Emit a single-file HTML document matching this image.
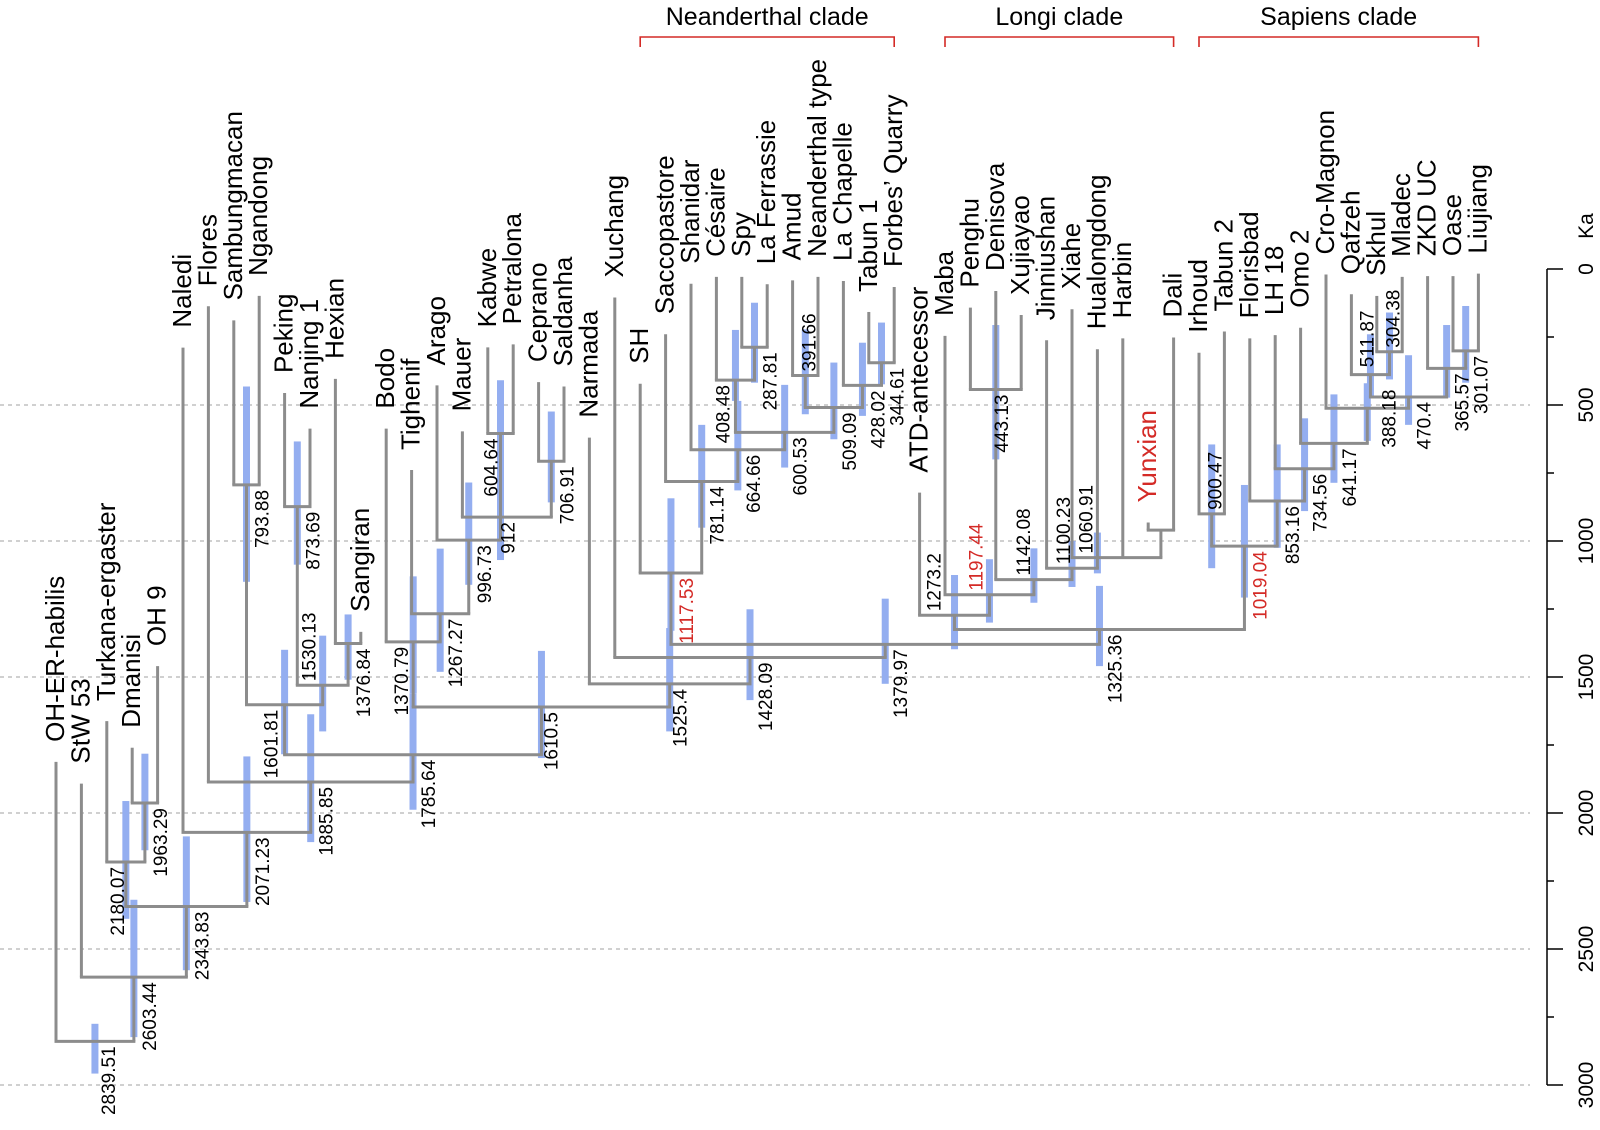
<!DOCTYPE html>
<html><head><meta charset="utf-8"><title>Hominin phylogeny</title>
<style>
html,body{margin:0;padding:0;background:#fff;}
svg{display:block;font-family:"Liberation Sans",Arial,sans-serif;}
</style></head>
<body>
<svg id="chart" width="1600" height="1130" viewBox="0 0 1600 1130" xmlns="http://www.w3.org/2000/svg">
<g id="grid"></g>
<g id="bars"></g>
<g id="branches"></g>
<g id="tiplabels"></g>
<g id="nodelabels"></g>
<g id="axis"></g>
<g id="clades"></g>
</svg>
<script>
// ---- data ----
const TIP_NAMES = ["OH-ER-habilis","StW 53","Turkana-ergaster","Dmanisi","OH 9","Naledi","Flores","Sambungmacan","Ngandong","Peking","Nanjing 1","Hexian","Sangiran","Bodo","Tighenif","Arago","Mauer","Kabwe","Petralona","Ceprano","Saldanha","Narmada","Xuchang","SH","Saccopastore","Shanidar","Césaire","Spy","La Ferrassie","Amud","Neanderthal type","La Chapelle","Tabun 1","Forbes’ Quarry","ATD-antecessor","Maba","Penghu","Denisova","Xujiayao","Jinniushan","Xiahe","Hualongdong","Harbin","Yunxian","Dali","Irhoud","Tabun 2","Florisbad","LH 18","Omo 2","Cro-Magnon","Qafzeh","Skhul","Mladec","ZKD UC","Oase","Liujiang"];
const TIP_AGES = [1812,1892,1662,1760,1460,289,137,189,99,456,587,404,1334,587,739,428,597,288,277,416,432,620,105,422,240,54,29,29,56,42,29,44,158,66,822,246,142,81,169,262,148,295,255,932,252,308,230,255,243,216,20,93,99,29,26,26,17];
const RED_TIPS = ["Yunxian"];

const NODE_IDS = ["n2839","n2603","n2343","n2180","n1963","n2071","n1885","n1785","n1601","n793","n1530","n873","n1376","n1610","n1370","n1267","n996","n912","n604","n706","n1525","n1428","n1379","n1117","n781","n664","n600","n408","n287","n509","n391","n428","n344","n1325","n1273","n1197","n1142","n443","n1100","n1060","nYD","n1019","n900","n853","n734","n641","n511","n470","n388","n304","n365","n301"];
const NODE_LABELS = ["2839.51","2603.44","2343.83","2180.07","1963.29","2071.23","1885.85","1785.64","1601.81","793.88","1530.13","873.69","1376.84","1610.5","1370.79","1267.27","996.73","912","604.64","706.91","1525.4","1428.09","1379.97","1117.53","781.14","664.66","600.53","408.48","287.81","509.09","391.66","428.02","344.61","1325.36","1273.2","1197.44","1142.08","443.13","1100.23","1060.91","","1019.04","900.47","853.16","734.56","641.17","511.87","470.4","388.18","304.38","365.57","301.07"];
const NODE_AGES = [2839.51,2603.44,2343.83,2180.07,1963.29,2071.23,1885.85,1785.64,1601.81,793.88,1530.13,873.69,1376.84,1610.5,1370.79,1267.27,996.73,912,604.64,706.91,1525.4,1428.09,1379.97,1117.53,781.14,664.66,600.53,408.48,287.81,509.09,391.66,428.02,344.61,1325.36,1273.2,1197.44,1142.08,443.13,1100.23,1060.91,960,1019.04,900.47,853.16,734.56,641.17,511.87,470.4,388.18,304.38,365.57,301.07];
const HPD_LO = [2775,2319,2086,1956,1782,1792,1637,1560,1400,432,1348,634,1270,1404,1130,1028,785,767,409,524,1320,1251,1212,843,573,485,426,224,124,344,222,271,197,1165,1125,1067,1027,206,1000,969,null,794,645,645,549,461,420,317,240,160,206,136];
const HPD_HI = [2958,2824,2578,2389,2137,2327,2107,1988,1784,1150,1700,1087,1510,1798,1560,1481,1161,1070,773,858,1700,1585,1525,1330,951,814,730,485,418,626,534,540,424,1460,1398,1300,1227,700,1169,1119,null,1208,1100,1025,890,786,632,573,470,406,473,418];
const NODE_CHILDREN = [
 ["OH-ER-habilis","n2603"],["StW 53","n2343"],["n2180","n2071"],["Turkana-ergaster","n1963"],["Dmanisi","OH 9"],
 ["Naledi","n1885"],["Flores","n1785"],["n1601","n1610"],["n793","n1530"],["Sambungmacan","Ngandong"],
 ["n873","n1376"],["Peking","Nanjing 1"],["Hexian","Sangiran"],["n1370","n1525"],["Bodo","n1267"],
 ["Tighenif","n996"],["Arago","n912"],["Mauer","n604","n706"],["Kabwe","Petralona"],["Ceprano","Saldanha"],
 ["Narmada","n1428"],["Xuchang","n1379"],["n1117","n1325"],["SH","n781"],["Saccopastore","n664"],
 ["Shanidar","n600"],["n408","n509"],["Césaire","n287"],["Spy","La Ferrassie"],["n391","n428"],
 ["Amud","Neanderthal type"],["La Chapelle","n344"],["Tabun 1","Forbes’ Quarry"],["n1273","n1019"],["ATD-antecessor","n1197"],
 ["Maba","n1142"],["n443","n1100"],["Penghu","Denisova","Xujiayao"],["Jinniushan","n1060"],["Xiahe","Hualongdong","Harbin","nYD"],
 ["Yunxian","Dali"],["n900","n853"],["Irhoud","Tabun 2"],["Florisbad","n734"],["LH 18","n641"],
 ["Omo 2","n511"],["Cro-Magnon","n470"],["n388","n365"],["Qafzeh","n304"],["Skhul","Mladec"],
 ["ZKD UC","n301"],["Oase","Liujiang"]];
const RED_NODES = ["n1117","n1197","n1019"];
const AXIS_TICKS = [0,500,1000,1500,2000,2500,3000];
const MINOR_TICKS = [250,750,1250,1750,2250,2750];
const GRID_VALUES = [500,1000,1500,2000,2500,3000];
const CLADE_NAMES = ["Neanderthal clade","Longi clade","Sapiens clade"];
const CLADE_FIRST = ["SH","Maba","Irhoud"];
const CLADE_LAST = ["Forbes’ Quarry","Dali","Liujiang"];

// label layout (not data): baseline offset dx, placement, extra dy
const LABEL_LAYOUT = {
 n2839:[20,"below",0], n2180:[-2,"below",0], n1601:[-7,"below",0], n1530:[-7,"above",0],
 n1370:[-5,"below",0], n604:[-3,"below",0], n912:[14,"below",0], n1610:[16,"below",0],
 n1525:[17,"below",0], n408:[-6,"below",0], n391:[10,"above",0], n443:[12,"below",0],
 n1273:[-14,"above",0], n1197:[-7,"above",0], n1142:[-4,"above",0], n1100:[-2,"above",0],
 n1060:[-5,"above",0], n900:[10,"above",0], n511:[6,"above",-37], n388:[25,"below",10],
 n304:[10,"above",0]
};

// ---- axis functions ----
function xTip(i){ return 56 + i*25.4; }
function yAge(a){ return 269 + a*0.272; }

const NS="http://www.w3.org/2000/svg";
function mk(tag, attrs, parent){
  const e=document.createElementNS(NS,tag);
  for(const k in attrs) e.setAttribute(k,attrs[k]);
  parent.appendChild(e); return e;
}
const gGrid=document.getElementById('grid'), gBars=document.getElementById('bars'),
 gBr=document.getElementById('branches'), gTip=document.getElementById('tiplabels'),
 gNode=document.getElementById('nodelabels'), gAxis=document.getElementById('axis'),
 gClade=document.getElementById('clades');

// gridlines
GRID_VALUES.forEach(v=>{
  const l=mk('line',{x1:0,x2:1530,y1:yAge(v),y2:yAge(v),stroke:'#a0a0a0','stroke-width':1,'stroke-dasharray':'4,4'},gGrid);
  
  
});

// positions
const pos={};
TIP_NAMES.forEach((n,i)=>{ pos[n]={x:xTip(i),y:yAge(TIP_AGES[i])}; });
const nodeIndex={}; NODE_IDS.forEach((id,i)=>nodeIndex[id]=i);
function nodePos(id){
  if(pos[id]) return pos[id];
  const i=nodeIndex[id];
  const ch=NODE_CHILDREN[i].map(c=>nodePos(c));
  let x;
  if(ch.length===2) x=(ch[0].x+ch[1].x)/2;
  else x=ch[Math.floor((ch.length-1)/2)].x;
  pos[id]={x:x,y:yAge(NODE_AGES[i])};
  return pos[id];
}
NODE_IDS.forEach(id=>nodePos(id));

// HPD bars
NODE_IDS.forEach((id,i)=>{
  if(HPD_LO[i]==null) return;
  const p=pos[id];
  const r=mk('rect',{x:p.x-3.5,y:yAge(HPD_LO[i]),width:7,height:yAge(HPD_HI[i])-yAge(HPD_LO[i]),fill:'#94aef0'},gBars);
  
  
});

// branches
NODE_IDS.forEach((id,i)=>{
  const p=pos[id];
  const ch=NODE_CHILDREN[i].map(c=>pos[c]);
  const xs=ch.map(c=>c.x);
  const h=mk('line',{x1:Math.min(...xs)-1.5,x2:Math.max(...xs)+1.5,y1:p.y,y2:p.y,stroke:'#8c8c8c','stroke-width':3},gBr);
  
  
  ch.forEach((c,k)=>{
    const v=mk('line',{x1:c.x,x2:c.x,y1:c.y,y2:p.y,stroke:'#8c8c8c','stroke-width':3},gBr);
    
    
  });
});

// tip labels
TIP_NAMES.forEach((n,i)=>{
  const p=pos[n];
  const t=mk('text',{transform:'translate('+(p.x+8)+','+(p.y-20)+') rotate(-90)','font-size':26,fill:RED_TIPS.includes(n)?'#d42a26':'#000','text-anchor':'start'},gTip);
  t.textContent=n;
  
  
});

// node labels
NODE_IDS.forEach((id,i)=>{
  if(!NODE_LABELS[i]) return;
  const p=pos[id];
  const L=LABEL_LAYOUT[id]||[22,"below",0];
  const bx=p.x+L[0];
  let by,anchor;
  if(L[1]==="below"){ by=p.y+5+L[2]; anchor='end'; } else { by=p.y-4+L[2]; anchor='start'; }
  const t=mk('text',{transform:'translate('+bx+','+by+') rotate(-90)','font-size':19,fill:RED_NODES.includes(id)?'#d42a26':'#000','text-anchor':anchor},gNode);
  t.textContent=NODE_LABELS[i];
  
  
});

// axis
const ax=mk('line',{x1:1547,x2:1547,y1:yAge(0),y2:yAge(3000),stroke:'#000','stroke-width':1.5},gAxis);


AXIS_TICKS.forEach(v=>{
  const tk=mk('line',{x1:1547,x2:1563,y1:yAge(v),y2:yAge(v),stroke:'#000','stroke-width':1.5},gAxis);
  
  
  const t=mk('text',{transform:'translate(1593,'+yAge(v)+') rotate(-90)','font-size':21,'text-anchor':'middle',fill:'#000'},gAxis);
  t.textContent=String(v);
  
  
});
MINOR_TICKS.forEach(v=>{
  const tk=mk('line',{x1:1547,x2:1554,y1:yAge(v),y2:yAge(v),stroke:'#000','stroke-width':1.5},gAxis);
  
  
});
const ka=mk('text',{transform:'translate(1593,226) rotate(-90)','font-size':21,'text-anchor':'middle',fill:'#000'},gAxis);
ka.textContent='Ka';



// clade brackets
CLADE_NAMES.forEach((c,i)=>{
  const x1=pos[CLADE_FIRST[i]].x, x2=pos[CLADE_LAST[i]].x;
  const b=mk('path',{d:'M'+x1+',47 V37 H'+x2+' V47',fill:'none',stroke:'#d42a26','stroke-width':1.6},gClade);
  
  
  const t=mk('text',{x:(x1+x2)/2,y:25,'font-size':25,'text-anchor':'middle',fill:'#000'},gClade);
  t.textContent=c;
  
  
});
</script>
</body></html>
